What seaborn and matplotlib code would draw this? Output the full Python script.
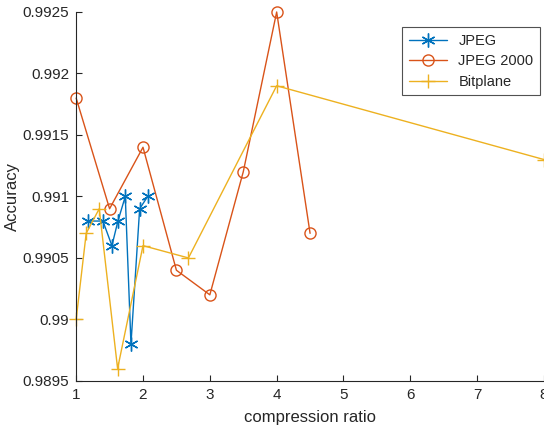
import matplotlib
matplotlib.use("Agg")
import matplotlib.pyplot as plt
import seaborn as sns
import pandas as pd

jpeg_x = [1.18, 1.40, 1.535, 1.625, 1.735, 1.82, 1.95, 2.07]
jpeg_y = [0.9908, 0.9908, 0.9906, 0.9908, 0.9910, 0.9898, 0.9909, 0.9910]

j2k_x = [1.0, 1.5, 2.0, 2.5, 3.0, 3.5, 4.0, 4.5]
j2k_y = [0.9918, 0.9909, 0.9914, 0.9904, 0.9902, 0.9912, 0.9925, 0.9907]

bp_x = [1.0, 1.15, 1.345, 1.62, 2.0, 2.68, 4.0, 8.0]
bp_y = [0.9900, 0.9907, 0.9909, 0.9896, 0.9906, 0.9905, 0.9919, 0.9913]

series_names = ["JPEG", "JPEG 2000", "Bitplane"]
x_ticks = [1, 2, 3, 4, 5, 6, 7, 8]
y_ticks = [0.9895, 0.99, 0.9905, 0.991, 0.9915, 0.992, 0.9925]
y_tick_labels = ["0.9895", "0.99", "0.9905", "0.991", "0.9915", "0.992", "0.9925"]

sns.set_theme(style="ticks")
plt.rcParams['font.family'] = ['Liberation Sans', 'DejaVu Sans']

fig = plt.figure(figsize=(5.44, 4.28), dpi=100)
ax = fig.add_axes([0.14, 0.11, 0.86, 0.862])

colors = ["#0072BD", "#D95319", "#EDB120"]
markers = [(6, 2, 0), "o", "+"]
msizes = [10, 8, 10]
data = [(jpeg_x, jpeg_y), (j2k_x, j2k_y), (bp_x, bp_y)]

for (xs, ys), name, c, m, ms in zip(data, series_names, colors, markers, msizes):
    df = pd.DataFrame({"x": xs, "y": ys})
    sns.lineplot(data=df, x="x", y="y", ax=ax, color=c, marker=m, markersize=ms,
                 markerfacecolor="none", markeredgecolor=c, markeredgewidth=1.0,
                 linewidth=1.0, label=name, sort=False, estimator=None, clip_on=False)

ax.set_xlim(1, 8)
ax.set_ylim(0.9895, 0.9925)
ax.set_xticks(x_ticks)
ax.set_xticklabels([str(t) for t in x_ticks])
ax.set_yticks(y_ticks)
ax.set_yticklabels(y_tick_labels)
ax.tick_params(direction="in", length=4, width=0.8, colors="#262626", labelsize=11,
               labelcolor="#262626", pad=5)
for s in ["top", "right"]:
    ax.spines[s].set_visible(False)
for s in ["left", "bottom"]:
    ax.spines[s].set_color("#262626")
    ax.spines[s].set_linewidth(0.8)
ax.set_xlabel("compression ratio", fontsize=12, color="#262626", labelpad=6)
ax.set_ylabel("Accuracy", fontsize=12, color="#262626", labelpad=2)

leg = ax.legend(loc="upper left", bbox_to_anchor=(0.697, 0.959), borderaxespad=0,
                frameon=True, fancybox=False,
                edgecolor="#262626", fontsize=10.5, handlelength=2.6, borderpad=0.45,
                labelspacing=0.45)
leg.get_frame().set_linewidth(0.8)

fig.savefig("out.png", dpi=100)
